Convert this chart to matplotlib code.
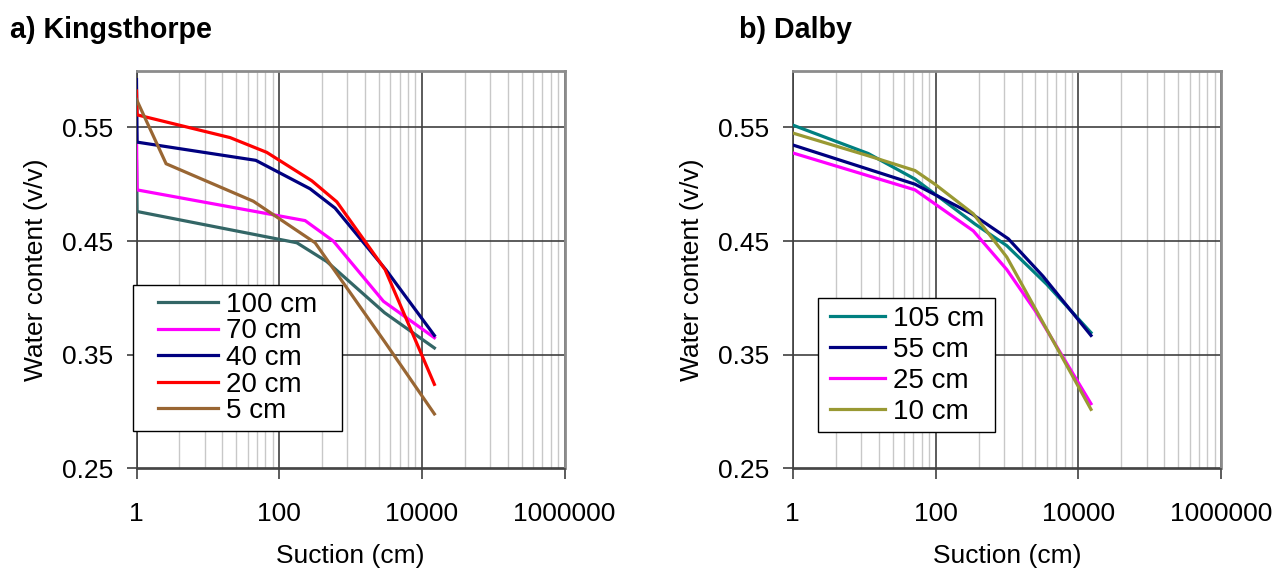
import matplotlib
matplotlib.use("Agg")
import matplotlib.pyplot as plt
from matplotlib.ticker import FixedLocator, NullFormatter, FixedFormatter
from matplotlib.path import Path

plt.rcParams['font.family'] = ['Liberation Sans', 'DejaVu Sans']

# ---------------- data: a) Kingsthorpe ----------------
k_labels = ['100 cm', '70 cm', '40 cm', '20 cm', '5 cm']
k_colors = ['#336666', '#FF00FF', '#000080', '#FF0000', '#996633']

k100_suction = [1, 1.02, 177, 465, 3000, 15000]
k100_theta = [0.520, 0.476, 0.4485, 0.432, 0.387, 0.356]

k70_suction = [1, 1.02, 231, 575, 2900, 15000]
k70_theta = [0.545, 0.495, 0.468, 0.450, 0.397, 0.365]

k40_suction = [1, 1.02, 47, 271, 608, 3160, 15000]
k40_theta = [0.592, 0.537, 0.521, 0.496, 0.479, 0.4245, 0.367]

k20_suction = [1, 1.02, 20.5, 67, 287, 643, 3050, 15000]
k20_theta = [0.582, 0.561, 0.541, 0.528, 0.503, 0.4845, 0.425, 0.324]

k5_suction = [1, 2.6, 43.5, 319, 3050, 15000]
k5_theta = [0.5745, 0.518, 0.485, 0.4485, 0.361, 0.298]

# ---------------- data: b) Dalby ----------------
d_labels = ['105 cm', '55 cm', '25 cm', '10 cm']
d_colors = ['#008080', '#000080', '#FF00FF', '#999933']

d105_suction = [1, 11.4, 51.5, 356, 991, 3600, 15000]
d105_theta = [0.552, 0.527, 0.5045, 0.465, 0.446, 0.412, 0.3695]

d55_suction = [1, 51.5, 320, 1043, 3200, 15000]
d55_theta = [0.5345, 0.500, 0.474, 0.452, 0.419, 0.367]

d25_suction = [1, 51.5, 337, 991, 2466, 15000]
d25_theta = [0.5275, 0.495, 0.459, 0.425, 0.389, 0.307]

d10_suction = [1, 11.4, 51.5, 98, 337, 991, 15000]
d10_theta = [0.545, 0.525, 0.512, 0.500, 0.474, 0.436, 0.302]

x_ticks = [1, 100, 10000, 1000000]
x_ticklabels = ['1', '100', '10000', '1000000']
y_ticks = [0.25, 0.35, 0.45, 0.55]
y_ticklabels = ['0.25', '0.35', '0.45', '0.55']

fig = plt.figure(figsize=(12.79, 5.69), dpi=100)
W, H = 1279.0, 569.0
ax1 = fig.add_axes([136.5 / W, (H - 468.5) / H, 428.0 / W, 398.0 / H])
ax2 = fig.add_axes([792.8 / W, (H - 468.5) / H, 428.4 / W, 398.0 / H])

minor_x = [n * n * 100 ** k for k in range(3) for n in range(2, 10)]


def style(ax):
    ax.set_xscale('log')
    ax.set_xlim(1, 1000000)
    ax.set_ylim(0.25, 0.60)
    ax.xaxis.set_major_locator(FixedLocator(x_ticks))
    ax.xaxis.set_major_formatter(FixedFormatter(x_ticklabels))
    ax.xaxis.set_minor_locator(FixedLocator(minor_x))
    ax.xaxis.set_minor_formatter(NullFormatter())
    ax.yaxis.set_major_locator(FixedLocator(y_ticks))
    ax.yaxis.set_major_formatter(FixedFormatter(y_ticklabels))
    ax.grid(which='minor', axis='x', color='#c8c8c8', lw=1.0, zorder=0)
    ax.grid(which='major', axis='both', color='#404040', lw=1.2, zorder=0.5)
    ax.set_axisbelow(True)
    ax.tick_params(which='major', direction='out', length=7, width=1.2,
                   color='#404040', labelsize=19, pad=10)
    ax.tick_params(which='minor', length=0)
    ax.tick_params(axis='x', pad=17)
    for s in ['left', 'bottom']:
        ax.spines[s].set_color('#404040')
        ax.spines[s].set_linewidth(1.2)
    for s in ['top', 'right']:
        ax.spines[s].set_color('#8c8c8c')
        ax.spines[s].set_linewidth(2.0)
    ax.set_xlabel('Suction (cm)', fontsize=19, labelpad=13)
    ax.set_ylabel('Water content (v/v)', fontsize=19, labelpad=10)


style(ax1)
style(ax2)

k_sets = [(k100_suction, k100_theta), (k70_suction, k70_theta),
          (k40_suction, k40_theta), (k20_suction, k20_theta),
          (k5_suction, k5_theta)]
for (xs, ys), lab, col in zip(k_sets, k_labels, k_colors):
    ax1.plot(xs, ys, color=col, lw=2.3, label=lab, solid_joinstyle='miter', zorder=3)

d_sets = [(d105_suction, d105_theta), (d55_suction, d55_theta),
          (d25_suction, d25_theta), (d10_suction, d10_theta)]
for (xs, ys), lab, col in zip(d_sets, d_labels, d_colors):
    ax2.plot(xs, ys, color=col, lw=2.3, label=lab, solid_joinstyle='miter', zorder=3)


def make_hbox(extra_px):
    def box(x0, y0, width, height, mutation_size):
        x0 -= extra_px
        width += 2 * extra_px
        return Path([(x0, y0), (x0 + width, y0), (x0 + width, y0 + height),
                     (x0, y0 + height), (x0, y0)],
                    [Path.MOVETO, Path.LINETO, Path.LINETO, Path.LINETO,
                     Path.CLOSEPOLY])
    return box


extra1 = 18
leg1 = ax1.legend(loc='upper left',
                  bbox_to_anchor=((133.3 + extra1) / W, 1 - 285 / H),
                  bbox_transform=fig.transFigure, borderaxespad=0,
                  fontsize=20, handlelength=2.15, handletextpad=0.3,
                  labelspacing=0.02, borderpad=0.25, fancybox=False,
                  framealpha=1, edgecolor='black')
leg1.get_frame().set_linewidth(1.0)
leg1.get_frame().set_boxstyle(make_hbox(extra1))
leg1.set_zorder(10)

extra2 = 4
leg2 = ax2.legend(loc='upper left',
                  bbox_to_anchor=((818.3 + extra2) / W, 1 - 298.3 / H),
                  bbox_transform=fig.transFigure, borderaxespad=0,
                  fontsize=20, handlelength=1.98, handletextpad=0.3,
                  labelspacing=0.18, borderpad=0.26, fancybox=False,
                  framealpha=1, edgecolor='black')
leg2.get_frame().set_linewidth(1.0)
leg2.get_frame().set_boxstyle(make_hbox(extra2))
leg2.set_zorder(10)

fig.text(10 / W, 1 - 30 / H, 'a) Kingsthorpe', fontsize=20.6, fontweight='bold',
         ha='left', va='center')
fig.text(739 / W, 1 - 30 / H, 'b) Dalby', fontsize=20.6, fontweight='bold',
         ha='left', va='center')

fig.savefig('out.png', dpi=100)
